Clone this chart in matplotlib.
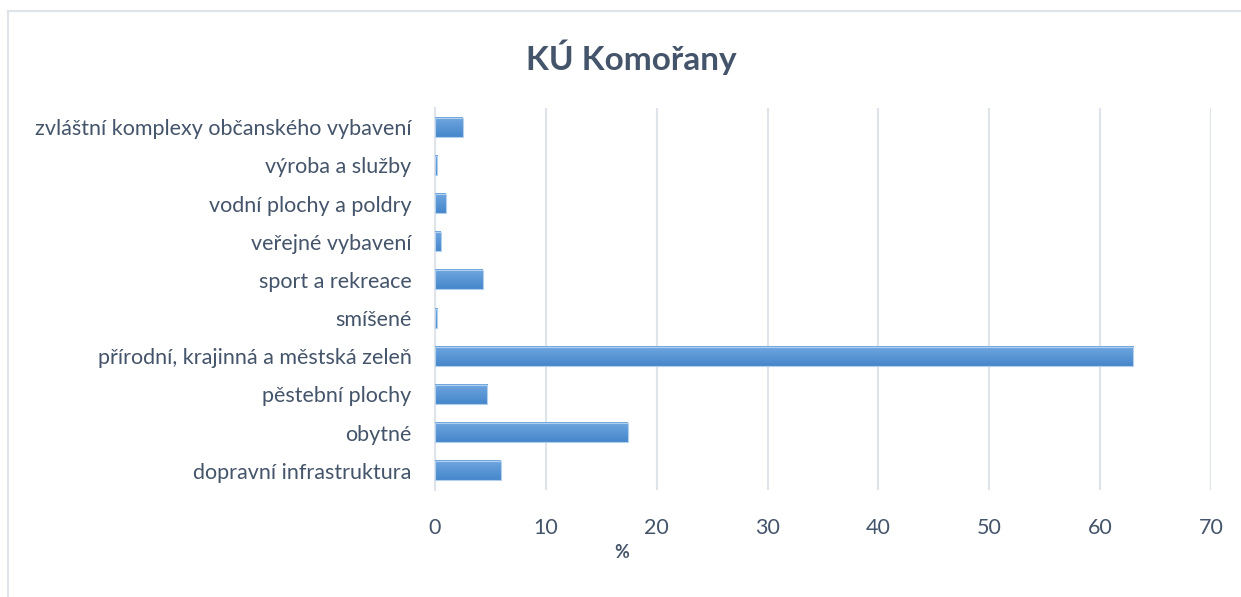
import numpy as np
import matplotlib.pyplot as plt
from matplotlib.lines import Line2D
from matplotlib.colors import LinearSegmentedColormap

kategorie = ["dopravní infrastruktura", "obytné", "pěstební plochy",
             "přírodní, krajinná a městská zeleň", "smíšené", "sport a rekreace",
             "veřejné vybavení", "vodní plochy a poldry", "výroba a služby",
             "zvláštní komplexy občanského vybavení"]
podil = [5.95, 17.4, 4.7, 63.0, 0.2, 4.3, 0.5, 0.95, 0.2, 2.5]
x_ticks = [0, 10, 20, 30, 40, 50, 60, 70]

plt.rcParams['font.family'] = ['Lato', 'DejaVu Sans']
text_col = "#44546a"

fig = plt.figure(figsize=(12.41, 5.97), dpi=100)
# ramecek grafu
fig.add_artist(Line2D([8/1241, 8/1241], [0, 1 - 11/597], color="#dfe3ea", lw=1.5, transform=fig.transFigure))
fig.add_artist(Line2D([8/1241, 1], [1 - 11/597, 1 - 11/597], color="#dfe3ea", lw=1.5, transform=fig.transFigure))

ax = fig.add_axes([435/1241, 1 - 490/597, 776/1241, 382/597])
y = np.arange(len(kategorie))
bars = ax.barh(y, podil, height=0.5, color="none", edgecolor="none", zorder=3)

# gradient na sloupcich (nahore svetlejsi)
grad = np.linspace(0, 1, 50).reshape(-1, 1)
cmap = LinearSegmentedColormap.from_list("g", ["#4686ca", "#6fa7e0"])
for b in bars:
    x0, y0 = b.get_x(), b.get_y()
    w, h = b.get_width(), b.get_height()
    ax.imshow(grad, cmap=cmap, aspect="auto", extent=[x0, x0 + w, y0, y0 + h],
              origin="lower", zorder=3, interpolation="bilinear")
    ax.add_patch(plt.Rectangle((x0, y0), w, h, fill=False, edgecolor="#b3cfee", lw=0.8, zorder=4))

ax.set_xlim(0, 70)
ax.set_ylim(-0.5, len(kategorie) - 0.5)
ax.set_xticks(x_ticks)
ax.set_yticks(y)
ax.set_yticklabels(kategorie)
ax.xaxis.grid(True, color="#dfe3ea", lw=1.5, zorder=0)
ax.set_axisbelow(True)
for s in ["top", "right", "bottom"]:
    ax.spines[s].set_visible(False)
ax.spines["left"].set_color("#dfe3ea")
ax.spines["left"].set_linewidth(1.5)
ax.tick_params(axis="both", length=0, labelsize=15.5, colors=text_col)
ax.tick_params(axis="x", pad=20)
ax.tick_params(axis="y", pad=17)

fig.text(622/1241, 1 - 553/597, "%", ha="center", va="center",
         fontsize=13, fontweight="bold", color=text_col)
fig.text(631/1241, 1 - 57/597, "KÚ Komořany", ha="center", va="center",
         fontsize=24, fontweight="bold", color=text_col)

fig.savefig("out.png", dpi=100)
